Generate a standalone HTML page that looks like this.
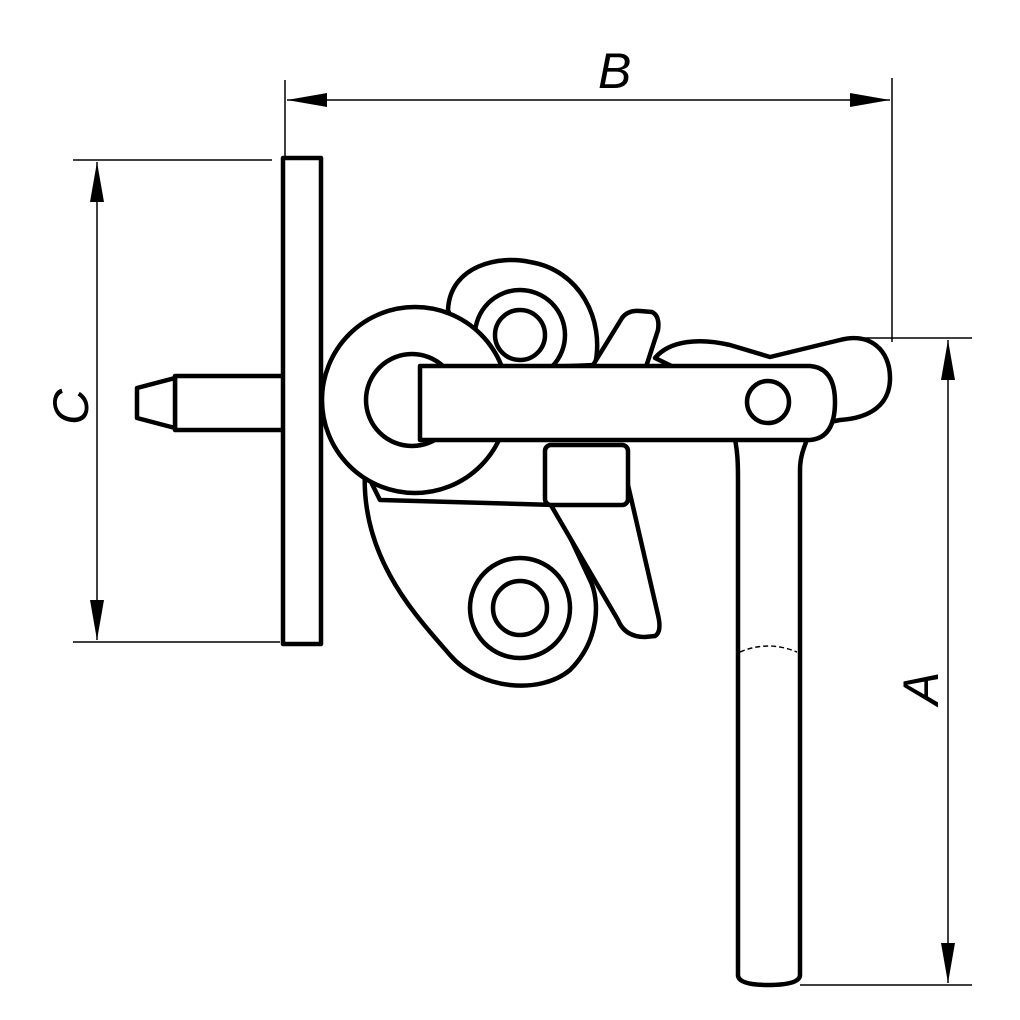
<!DOCTYPE html>
<html><head><style>html,body{margin:0;padding:0;background:#fff}svg{display:block}</style></head>
<body>
<svg width="1020" height="1020" viewBox="0 0 1020 1020" xmlns="http://www.w3.org/2000/svg">
<g stroke="#000" stroke-width="1.5" fill="none">
  <line x1="285" y1="80" x2="285" y2="156"/>
  <line x1="892" y1="78" x2="892" y2="342"/>
  <line x1="287" y1="100" x2="890" y2="100"/>
  <line x1="73" y1="160" x2="272" y2="160"/>
  <line x1="73" y1="642" x2="280" y2="642"/>
  <line x1="97" y1="162" x2="97" y2="640"/>
  <line x1="858" y1="338" x2="972" y2="338"/>
  <line x1="800" y1="985" x2="972" y2="985"/>
  <line x1="948" y1="340" x2="948" y2="983"/>
</g>
<g fill="#000">
  <polygon points="287,100 327,93 327,107"/>
  <polygon points="890,100 850,93 850,107"/>
  <polygon points="97,162 90,202 104,202"/>
  <polygon points="97,640 90,600 104,600"/>
  <polygon points="948,340 941,380 955,380"/>
  <polygon points="948,983 941,943 955,943"/>
</g>
<g font-family="Liberation Sans, sans-serif" font-style="italic" font-size="50" fill="#000">
  <text x="598" y="88">B</text>
  <text transform="translate(88,425) rotate(-90)">C</text>
  <text transform="translate(938,705) rotate(-90)">A</text>
</g>
<g stroke="#000" stroke-width="4.5" fill="#fff" stroke-linejoin="round">
  <!-- stud -->
  <rect x="175" y="376" width="110" height="54"/>
  <polygon points="137,388 175,378 175,428 137,418"/>
  <!-- plate -->
  <rect x="283" y="158" width="38" height="486"/>
  <!-- lower body -->
  <path d="M365,470 C360,560 420,620 450,655 C480,690 540,695 570,670 C600,640 600,600 590,580 L555,505 L380,500 Z"/>
  <circle cx="520" cy="608" r="50"/>
  <circle cx="520" cy="608" r="27"/>
  <!-- pawl -->
  <path d="M545,495 L618,620 Q625,637 645,637 L655,636 Q662,632 658,615 L628,485 Z"/>
  <!-- upper cam -->
  <path d="M448,310 C450,265 500,255 530,262 C580,270 605,320 595,365 L470,370 Z"/>
  <circle cx="520" cy="335" r="45"/>
  <circle cx="520" cy="335" r="25"/>
  <!-- tooth -->
  <path d="M590,370 L622,318 Q628,310 640,311 L652,312 Q660,316 658,330 L645,370 Z"/>
  <!-- right lever -->
  <path d="M655,358 C670,340 700,338 730,345 L770,357 L840,340 C870,332 890,350 890,378 C890,405 870,418 840,420 L800,428 Z"/>
  <!-- handle -->
  <path d="M733,430 C738,450 738,465 738,480 L738,975 Q738,985 768,985 Q800,985 800,975 L800,470 C800,455 805,445 810,432 Z"/>
  <!-- block -->
  <rect x="545" y="445" width="83" height="60" rx="6"/>
  <!-- ring -->
  <circle cx="415" cy="400" r="93"/>
  <circle cx="412" cy="400" r="46"/>
  <!-- bar -->
  <path d="M420,366 L810,366 Q835,368 835,402 Q835,438 810,440 L420,440 Z"/>
  <circle cx="768" cy="402" r="21"/>
</g>
<path d="M740,652 Q768,640 797,652" stroke="#000" stroke-width="1.5" fill="none" stroke-dasharray="5,3"/>
</svg>
</body></html>
